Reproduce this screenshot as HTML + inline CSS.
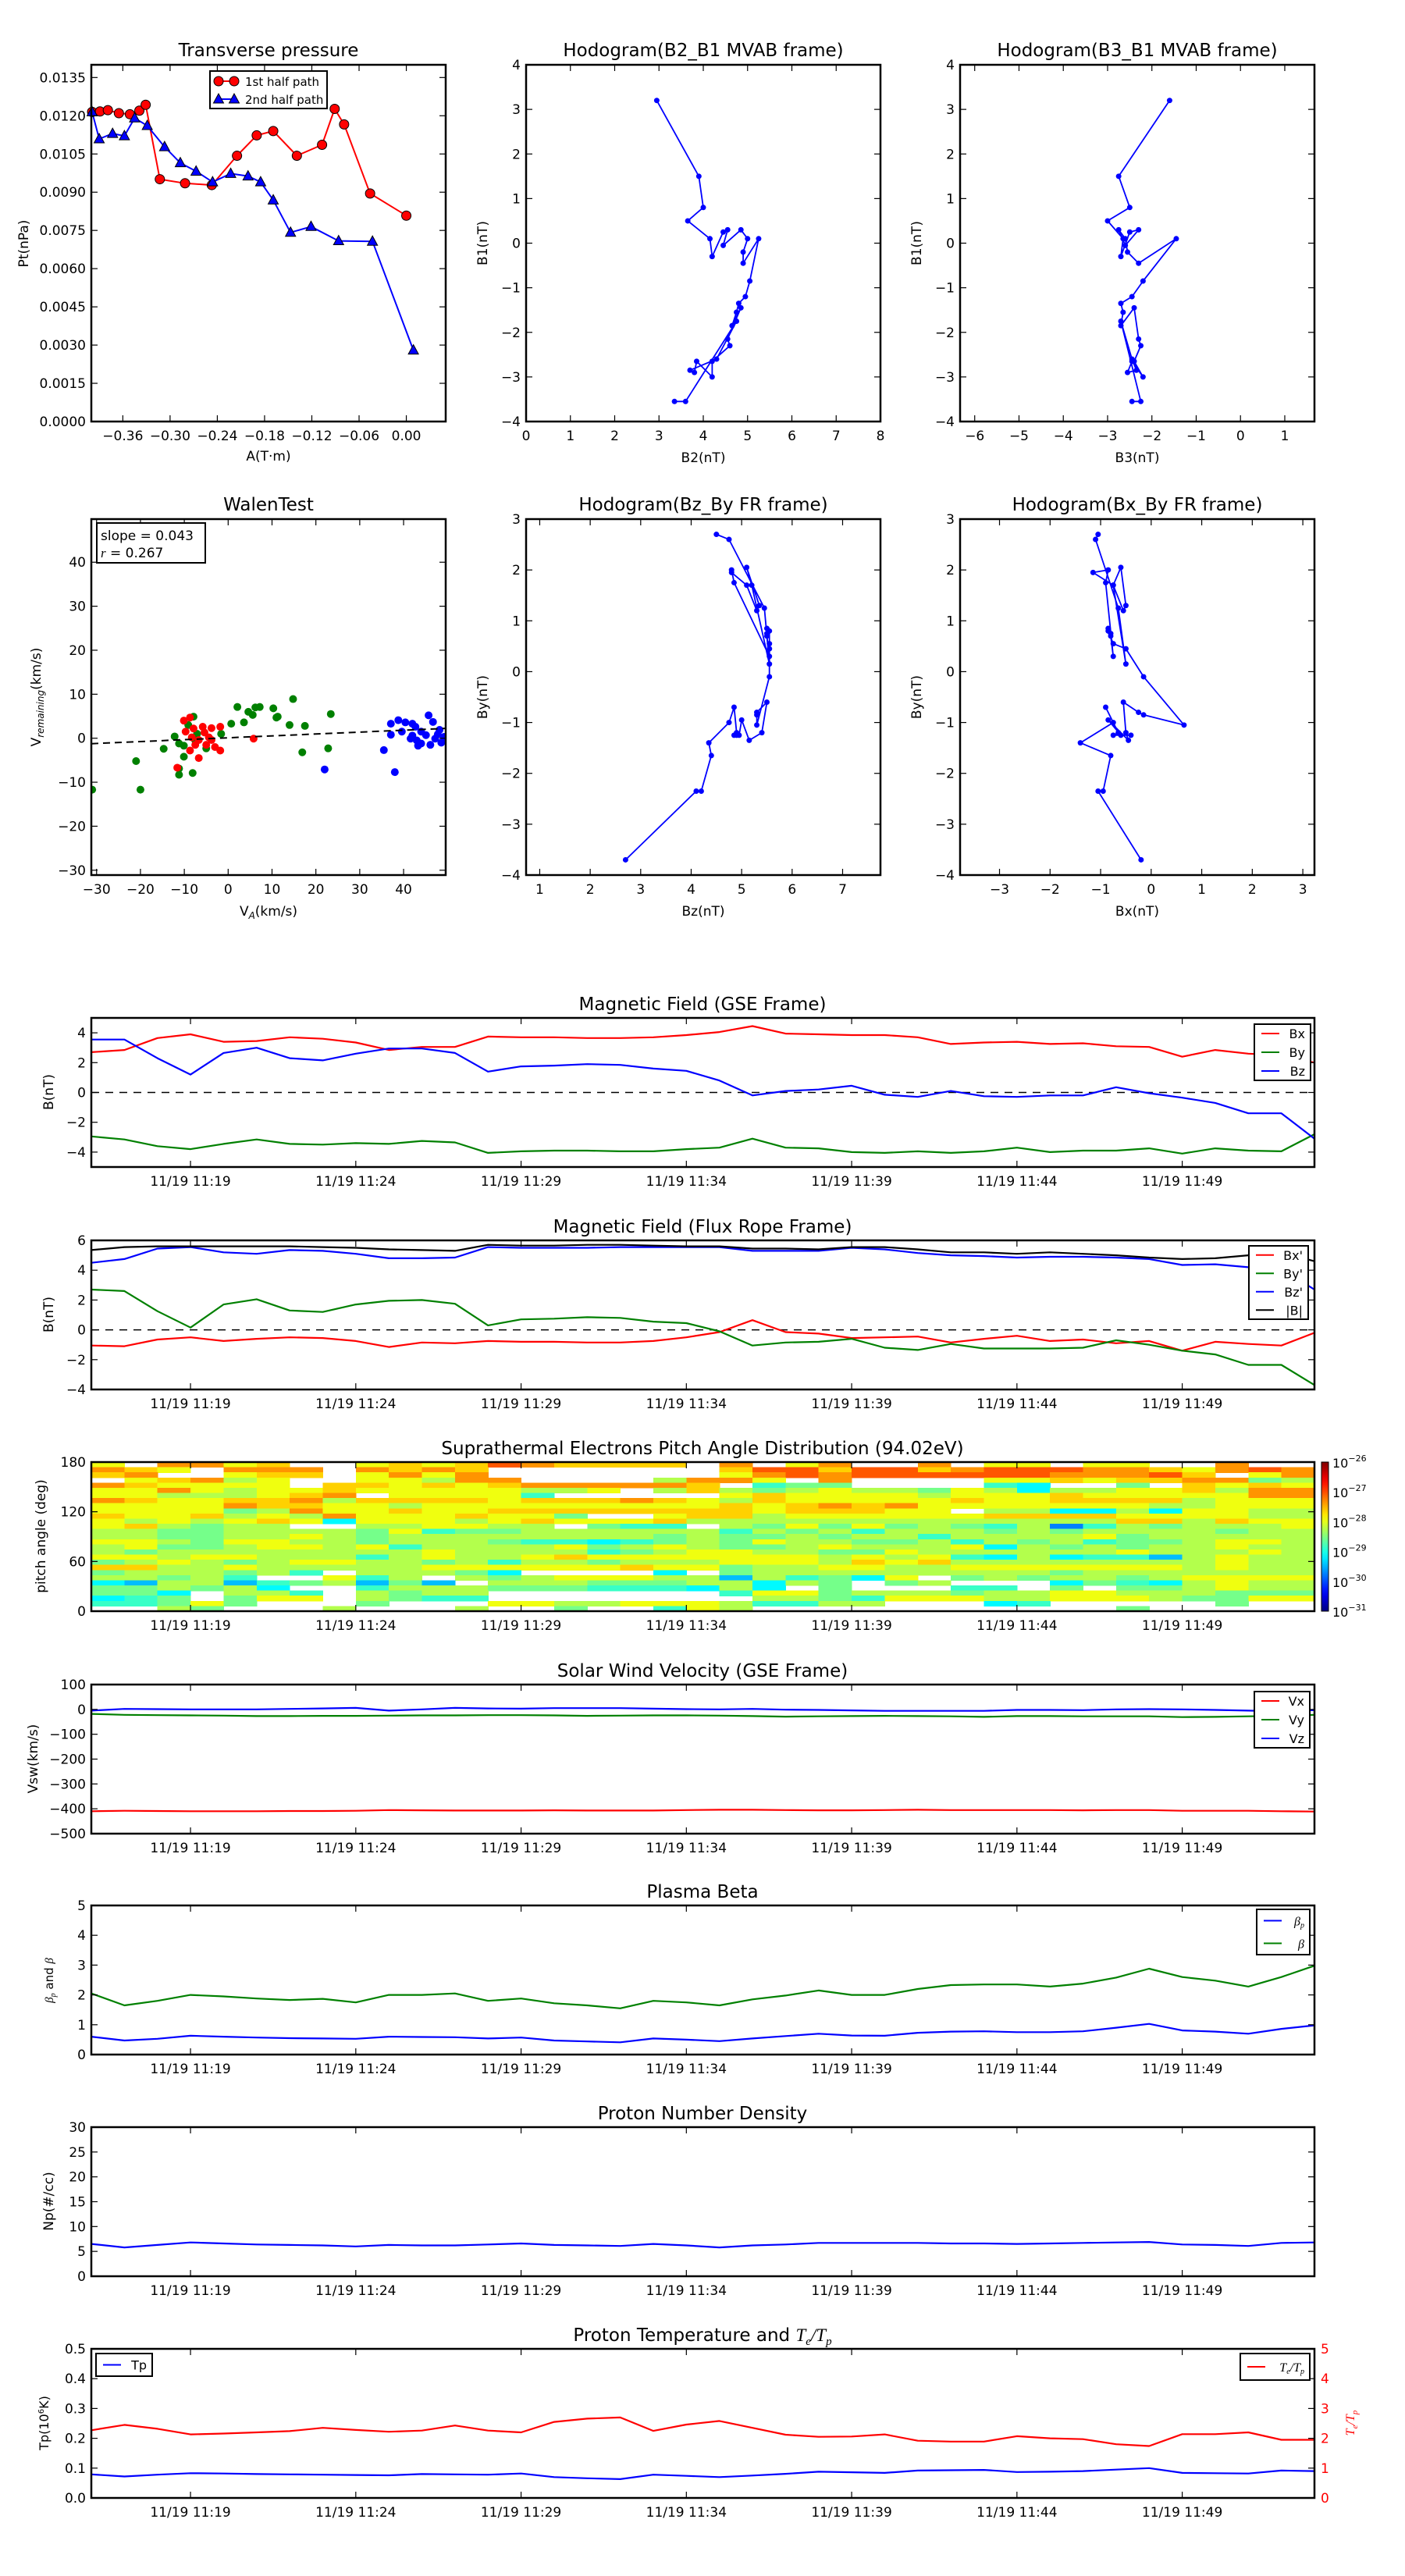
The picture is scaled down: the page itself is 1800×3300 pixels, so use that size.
<!DOCTYPE html>
<html><head><meta charset="utf-8"><title>Flux rope analysis</title>
<style>
html,body{margin:0;padding:0;background:#fff;}
svg{display:block;font-family:"DejaVu Sans","Liberation Sans",sans-serif;}
</style></head>
<body>
<svg id="chart" xmlns="http://www.w3.org/2000/svg" width="1800" height="3300" viewBox="0 0 1800 3300">
<rect x="0" y="0" width="1800" height="3300" fill="#fff"/>
</svg>
<script>
// ---------------- DATA ----------------
const ptRedA=[-0.399,-0.389,-0.379,-0.365,-0.351,-0.339,-0.331,-0.313,-0.281,-0.247,-0.215,-0.190,-0.169,-0.139,-0.107,-0.091,-0.079,-0.046,0.000];
const ptRedP=[0.01215,0.01217,0.01222,0.0121,0.01206,0.0122,0.01243,0.00951,0.00935,0.00928,0.01043,0.01123,0.0114,0.01043,0.01086,0.01227,0.01166,0.00895,0.00808];
const ptBlueA=[-0.399,-0.390,-0.373,-0.358,-0.345,-0.329,-0.307,-0.287,-0.267,-0.246,-0.223,-0.201,-0.185,-0.169,-0.147,-0.121,-0.086,-0.043,0.009];
const ptBlueP=[0.01215,0.01109,0.0113,0.01121,0.01191,0.01161,0.01078,0.01015,0.00982,0.0094,0.00973,0.00963,0.0094,0.00869,0.00742,0.00765,0.00709,0.00707,0.0028];

const mvB1=[3.2,1.5,0.8,0.5,0.1,-0.3,0.25,0.3,-0.05,0.3,0.1,-0.2,-0.45,0.1,-0.85,-1.2,-1.35,-1.55,-1.85,-1.45,-2.15,-2.3,-2.65,-3.0,-2.65,-2.9,-2.85,-2.6,-1.75,-3.55,-3.55];
const mvB2=[2.95,3.9,4.0,3.65,4.15,4.2,4.45,4.55,4.45,4.85,5.0,4.9,4.9,5.25,5.05,4.95,4.8,4.75,4.65,4.85,4.55,4.6,4.2,4.2,3.85,3.8,3.7,4.3,4.75,3.6,3.35];
const mvB3=[-1.6,-2.75,-2.5,-3.0,-2.65,-2.7,-2.5,-2.3,-2.6,-2.75,-2.6,-2.55,-2.3,-1.45,-2.2,-2.45,-2.7,-2.65,-2.7,-2.4,-2.3,-2.25,-2.4,-2.2,-2.45,-2.55,-2.35,-2.45,-2.7,-2.25,-2.45];

const walRedX=[-10.1,-8.7,-9.7,-7.9,-5.4,-3.8,-1.8,-4.4,-6.7,-7.5,-8.7,-6.7,-11.6,-3.0,-1.8,-5,-8.3,5.8,-5.8,-3.8];
const walRedY=[4.0,4.7,1.5,2.2,1.3,2.3,2.6,0.2,-0.4,-1.5,-2.8,-4.5,-6.7,-2.0,-2.8,-1.5,0.2,-0.1,2.6,-0.4];
const walGreenX=[-31,-21,-20,-14.7,-12.2,-11.2,-10.1,-10.1,-11.2,-11.2,-8.1,-9.1,-7.9,-7.1,-5,-1.6,0.7,2.1,3.6,4.6,5.6,6.2,7.2,10.3,11,11.3,14,14.8,17.5,16.9,22.8,23.4,-7.5];
const walGreenY=[-11.7,-5.2,-11.7,-2.4,0.4,-1.2,-1.7,-4.2,-6.9,-8.3,-7.9,3.0,4.9,1.0,-2.3,1.0,3.3,7.1,3.6,6.0,5.3,7.0,7.1,6.8,4.7,4.9,3.0,8.9,2.8,-3.2,-2.3,5.5,-0.5];
const walBlueX=[22,35.5,38,37.1,37.1,38.8,40.4,42,42.7,42,43,44,45.7,45.1,46.1,47.2,48.2,49.2,44,41.6,46.7,47.8,48.6,39.6,43.3];
const walBlueY=[-7.1,-2.7,-7.7,3.3,0.8,4.1,3.6,3.3,2.6,0.6,-0.5,1.5,5.2,0.7,-1.5,-0.1,1.9,0.3,-1.2,-0.1,3.7,0.9,-1.0,1.5,-1.7];
const walSlope=0.043, walIntercept=0.1;

const gseBx=[2.7,2.85,3.65,3.9,3.4,3.45,3.7,3.6,3.35,2.85,3.05,3.05,3.75,3.7,3.7,3.65,3.65,3.7,3.85,4.05,4.45,3.95,3.9,3.85,3.85,3.7,3.25,3.35,3.4,3.25,3.3,3.1,3.05,2.4,2.85,2.6,2.5,2.0];
const gseBy=[-2.95,-3.15,-3.6,-3.8,-3.45,-3.15,-3.45,-3.5,-3.4,-3.45,-3.25,-3.35,-4.05,-3.95,-3.9,-3.9,-3.95,-3.95,-3.8,-3.7,-3.1,-3.7,-3.75,-4.0,-4.05,-3.95,-4.05,-3.95,-3.7,-4.0,-3.9,-3.9,-3.75,-4.1,-3.75,-3.9,-3.95,-2.8];
const gseBz=[3.55,3.55,2.3,1.2,2.65,3.0,2.3,2.15,2.6,2.95,2.95,2.65,1.4,1.75,1.8,1.9,1.85,1.6,1.45,0.8,-0.2,0.1,0.2,0.45,-0.15,-0.3,0.1,-0.25,-0.3,-0.2,-0.2,0.35,-0.05,-0.35,-0.7,-1.4,-1.4,-3.1];

const frBx=[-1.05,-1.1,-0.65,-0.5,-0.75,-0.6,-0.5,-0.55,-0.75,-1.15,-0.85,-0.9,-0.75,-0.8,-0.8,-0.85,-0.85,-0.75,-0.5,-0.15,0.65,-0.15,-0.25,-0.55,-0.5,-0.45,-0.85,-0.6,-0.4,-0.75,-0.65,-0.9,-0.75,-1.4,-0.8,-0.95,-1.05,-0.2];
const frBy=[2.7,2.6,1.25,0.15,1.7,2.05,1.3,1.2,1.7,1.95,2.0,1.75,0.3,0.7,0.75,0.85,0.8,0.55,0.45,-0.1,-1.05,-0.85,-0.8,-0.6,-1.2,-1.35,-0.95,-1.25,-1.25,-1.25,-1.2,-0.7,-1.0,-1.4,-1.65,-2.35,-2.35,-3.7];
const frBz=[4.5,4.75,5.45,5.55,5.2,5.1,5.35,5.3,5.1,4.8,4.8,4.85,5.55,5.5,5.5,5.5,5.55,5.55,5.55,5.55,5.3,5.3,5.3,5.5,5.4,5.15,5.0,4.95,4.85,4.9,4.9,4.85,4.75,4.35,4.4,4.2,4.1,2.7];
const frBt=[5.35,5.55,5.6,5.6,5.6,5.6,5.6,5.55,5.5,5.4,5.35,5.3,5.7,5.65,5.65,5.7,5.7,5.65,5.6,5.6,5.45,5.45,5.4,5.55,5.55,5.4,5.2,5.2,5.1,5.2,5.1,5.0,4.85,4.75,4.8,5.0,5.2,4.6];

const padRows=[
"6.8867..6767987777.8.68..8.66.66..8..",
"876.888.8787.......799799789998876898",
"78..677.6868.......689899999988897.68",
".67856..66588....5886.8....6676778845",
"876666.776767888887.344....32..4.7676",
"6686566766666556.57545655465255667588",
"66555678.66663.....676666566676666688",
"8766778577776777876576666676677775666",
"6666877665666666666767878666666655666",
"66664586676677777777677766.5522526655",
"766756586667664..67756666667777666655",
"6565676266656766675555555555555775766",
"675455..556655.433.546464543503545556",
"5544555546344555555354535554545555455",
"5544556545555555545445455355556455555",
"6654665545554332345465544535453445665",
"5644566563555564565445655562545455655",
"5455555555655553456655446555555655565",
"6656655535655676666666565632523315655",
"4565456655453554555666576755555555655",
"7755655555666666766455665566666665655",
"4555453.55542....2.455555555545555555",
"55453..635.54566655153426.45455456666",
"21551345141.55544455254.45...24325655",
"445452..3555444333252.4...33.4.445655",
"442.553.5455.......366455545566555444",
"234.466.5433........55436665566654466",
"33464...4...665566653355...23.....4..",
"..54...5...5..4..365...........4....."];
const padTicks=[0,60,120,180];
const cbTicks=[-31,-30,-29,-28,-27,-26];

const swVx=[-410,-408,-409,-410,-410,-410,-409,-409,-408,-405,-406,-407,-407,-407,-406,-407,-407,-407,-405,-404,-404,-405,-406,-406,-405,-404,-405,-405,-405,-405,-406,-405,-405,-408,-408,-408,-410,-411];
const swVy=[-18,-22,-23,-24,-25,-27,-27,-26,-26,-25,-24,-24,-23,-23,-24,-26,-25,-24,-24,-25,-27,-29,-28,-27,-26,-27,-28,-30,-27,-27,-28,-28,-28,-31,-30,-28,-26,-22];
const swVz=[-5,2,1,0,0,0,2,4,6,-5,0,6,4,3,5,5,5,3,1,0,2,-1,-2,-4,-6,-6,-6,-6,-2,-2,-3,0,1,0,-2,-5,-8,-3];

const betaP=[0.6,0.47,0.53,0.63,0.6,0.57,0.55,0.54,0.53,0.6,0.59,0.58,0.54,0.57,0.47,0.44,0.41,0.54,0.5,0.45,0.54,0.62,0.7,0.64,0.63,0.73,0.77,0.78,0.75,0.75,0.78,0.9,1.03,0.81,0.77,0.7,0.86,0.98];
const betaT=[2.05,1.65,1.8,2.0,1.95,1.88,1.83,1.87,1.75,2.0,2.0,2.05,1.8,1.88,1.72,1.65,1.55,1.8,1.75,1.65,1.85,1.98,2.15,2.0,2.0,2.2,2.33,2.35,2.35,2.28,2.38,2.58,2.88,2.6,2.48,2.28,2.6,2.98];
const npDens=[6.5,5.8,6.3,6.8,6.6,6.4,6.3,6.2,6.0,6.3,6.2,6.2,6.4,6.6,6.3,6.2,6.1,6.5,6.2,5.8,6.2,6.4,6.7,6.7,6.7,6.7,6.6,6.6,6.5,6.6,6.7,6.8,6.9,6.4,6.3,6.1,6.7,6.8];
const tpTemp=[0.079,0.072,0.078,0.083,0.082,0.080,0.079,0.078,0.077,0.076,0.080,0.079,0.078,0.082,0.070,0.066,0.063,0.078,0.074,0.070,0.075,0.081,0.088,0.086,0.084,0.092,0.093,0.094,0.087,0.088,0.090,0.095,0.100,0.084,0.083,0.082,0.092,0.090];
const teTp=[2.27,2.45,2.32,2.13,2.16,2.2,2.24,2.35,2.28,2.22,2.26,2.43,2.26,2.2,2.55,2.66,2.7,2.25,2.46,2.58,2.35,2.12,2.05,2.06,2.13,1.92,1.89,1.89,2.07,2.0,1.97,1.8,1.74,2.14,2.14,2.2,1.95,1.95];
const timeTickMin=[3,8,13,18,23,28,33];
const timeTickLabels=["11/19 11:19","11/19 11:24","11/19 11:29","11/19 11:34","11/19 11:39","11/19 11:44","11/19 11:49"];

// ---------------- HELPERS ----------------
const svg=document.getElementById('chart');
const NS='http://www.w3.org/2000/svg';
function mk(tag,attrs,parent){const e=document.createElementNS(NS,tag);for(const k in attrs)e.setAttribute(k,attrs[k]);(parent||svg).appendChild(e);return e;}
const MINUS='\u2212';
function fmt(v,d){const s=Math.abs(v).toFixed(d);return (v<0&&parseFloat(s)!==0?MINUS:'')+s;}
function lin(d0,d1,p0,p1){return v=>p0+(v-d0)/(d1-d0)*(p1-p0);}
function jet(t){const c=x=>Math.round(255*Math.max(0,Math.min(1,x)));return `rgb(${c(1.5-Math.abs(4*t-3))},${c(1.5-Math.abs(4*t-2))},${c(1.5-Math.abs(4*t-1))})`;}

function drawFrame(g,b){
  const f=mk('rect',{x:b.x,y:b.y,width:b.w,height:b.h,fill:'none',stroke:'#000','stroke-width':2.5},g);
  
  
}
function xTicks(g,b,vals,sx,labels,minor){
  vals.forEach((v,i)=>{
    const x=sx(v);
    const t1=mk('line',{x1:x,x2:x,y1:b.y+b.h,y2:b.y+b.h-8,stroke:'#000','stroke-width':1.2},g);
    
    
    const t2=mk('line',{x1:x,x2:x,y1:b.y,y2:b.y+8,stroke:'#000','stroke-width':1.2},g);
    
    
    const tx=mk('text',{x:x,y:b.y+b.h+24,'text-anchor':'middle','font-size':17,fill:'#000'},g);
    tx.textContent=labels[i];
    
    
  });
}
function yTicks(g,b,vals,sy,labels,opts){
  opts=opts||{};
  vals.forEach((v,i)=>{
    const y=sy(v);
    const t1=mk('line',{x1:b.x,x2:b.x+8,y1:y,y2:y,stroke:'#000','stroke-width':1.2},g);
    
    
    if(!opts.noRight){
      const t2=mk('line',{x1:b.x+b.w,x2:b.x+b.w-8,y1:y,y2:y,stroke:'#000','stroke-width':1.2},g);
      
      
    }
    const tx=mk('text',{x:b.x-7,y:y+6,'text-anchor':'end','font-size':17,fill:'#000'},g);
    tx.textContent=labels[i];
    
    
  });
}
function title(g,x,y,txt,name){
  const t=mk('text',{x:x,y:y,'text-anchor':'middle','font-size':23,fill:'#000'},g);
  t.textContent=txt;
  
  
  return t;
}
function ylab(g,x,y,txt,name,color){
  const t=mk('text',{x:x,y:y,'text-anchor':'middle','font-size':17,fill:color||'#000',transform:`rotate(-90 ${x} ${y})`},g);
  t.textContent=txt;
  
  
  return t;
}
function xlab(g,x,y,txt,name){
  const t=mk('text',{x:x,y:y,'text-anchor':'middle','font-size':17,fill:'#000'},g);
  t.textContent=txt;
  
  
  return t;
}
function poly(g,xs,ys,sx,sy,color,name,w){
  const pts=xs.map((v,i)=>sx(v).toFixed(1)+','+sy(ys[i]).toFixed(1)).join(' ');
  const p=mk('polyline',{points:pts,fill:'none',stroke:color,'stroke-width':w||2.2,'stroke-linejoin':'round'},g);
  
  
  return p;
}
function range(a,b,s){const r=[];for(let v=a;v<=b+1e-9;v+=s)r.push(+v.toFixed(6));return r;}

// ---------------- TRANSVERSE PRESSURE ----------------
(function(){
  const b={x:117,y:83,w:454,h:457};
  const g=mk('g',{});
  
  
  const sx=lin(-0.40,0.05,b.x,b.x+b.w), sy=lin(0,0.014,b.y+b.h,b.y);
  const xt=range(-0.36,0.0,0.06), yt=range(0,0.0135,0.0015);
  poly(g,ptRedA,ptRedP,sx,sy,'#ff0000','first-half-line',2);
  poly(g,ptBlueA,ptBlueP,sx,sy,'#0000ff','second-half-line',2);
  ptRedA.forEach((v,i)=>{
    const c=mk('circle',{cx:sx(v),cy:sy(ptRedP[i]),r:6,fill:'#ff0000',stroke:'#000','stroke-width':1},g);
    
    
  });
  ptBlueA.forEach((v,i)=>{
    const x=sx(v),y=sy(ptBlueP[i]);
    const t=mk('polygon',{points:`${x},${y-7} ${x-6.5},${y+5} ${x+6.5},${y+5}`,fill:'#0000ff',stroke:'#000','stroke-width':1},g);
    
    
  });
  drawFrame(g,b);
  xTicks(g,b,xt,sx,xt.map(v=>fmt(v,2)));
  yTicks(g,b,yt,sy,yt.map(v=>fmt(v,4)));
  title(g,344,72,'Transverse pressure','pressure-title');
  xlab(g,344,590,'A(T\u00b7m)','pressure-x-label');
  ylab(g,36,312,'Pt(nPa)','pressure-y-label');
  const lg=mk('g',{},g);
  
  
  const lb=mk('rect',{x:269,y:91,width:150,height:48,fill:'#fff',stroke:'#000','stroke-width':2},lg);
  
  
  const l1=mk('line',{x1:280,x2:300,y1:104,y2:104,stroke:'#f00','stroke-width':2},lg);
  
  
  [280,300].forEach(x=>{const c=mk('circle',{cx:x,cy:104,r:6,fill:'#f00',stroke:'#000','stroke-width':1},lg);
    
    });
  const l2=mk('line',{x1:280,x2:300,y1:127,y2:127,stroke:'#00f','stroke-width':2},lg);
  
  
  [280,300].forEach(x=>{const t=mk('polygon',{points:`${x},${120} ${x-6.5},${132} ${x+6.5},${132}`,fill:'#00f',stroke:'#000','stroke-width':1},lg);
    
    });
  const e1=mk('text',{x:314,y:110,'font-size':15},lg); e1.textContent='1st half path';
  
  
  const e2=mk('text',{x:314,y:133,'font-size':15},lg); e2.textContent='2nd half path';
  
  
})();

// ---------------- HODOGRAMS ----------------
function hodo(b,xs,ys,xr,yr,xt,yt,ttl,xl,yl,name){
  const g=mk('g',{});
  
  
  const sx=lin(xr[0],xr[1],b.x,b.x+b.w), sy=lin(yr[0],yr[1],b.y+b.h,b.y);
  poly(g,xs,ys,sx,sy,'#0000ff','hodogram-path',1.8);
  xs.forEach((v,i)=>{
    const c=mk('circle',{cx:sx(v),cy:sy(ys[i]),r:3.5,fill:'#0000ff'},g);
    
    
  });
  drawFrame(g,b);
  xTicks(g,b,xt,sx,xt.map(v=>fmt(v,0)));
  yTicks(g,b,yt,sy,yt.map(v=>fmt(v,0)));
  title(g,b.x+b.w/2,b.y-11,ttl,name+'-title');
  xlab(g,b.x+b.w/2,b.y+b.h+52,xl,name+'-x-label');
  ylab(g,b.x-50,b.y+b.h/2,yl,name+'-y-label');
}
hodo({x:674,y:83,w:454,h:457},mvB2,mvB1,[0,8],[-4,4],range(0,8,1),range(-4,4,1),'Hodogram(B2_B1 MVAB frame)','B2(nT)','B1(nT)','hodogram-b2-b1');
hodo({x:1230,y:83,w:454,h:457},mvB3,mvB1,[-6.33,1.67],[-4,4],range(-6,1,1),range(-4,4,1),'Hodogram(B3_B1 MVAB frame)','B3(nT)','B1(nT)','hodogram-b3-b1');
hodo({x:674,y:665,w:454,h:456},frBz,frBy,[0.73,7.75],[-4,3],range(1,7,1),range(-4,3,1),'Hodogram(Bz_By FR frame)','Bz(nT)','By(nT)','hodogram-bz-by');
hodo({x:1230,y:665,w:454,h:456},frBx,frBy,[-3.78,3.23],[-4,3],range(-3,3,1),range(-4,3,1),'Hodogram(Bx_By FR frame)','Bx(nT)','By(nT)','hodogram-bx-by');

// ---------------- WALEN TEST ----------------
(function(){
  const b={x:117,y:665,w:454,h:456};
  const g=mk('g',{});
  
  
  const sx=lin(-31.2,49.6,b.x,b.x+b.w), sy=lin(-31.1,49.8,b.y+b.h,b.y);
  const groups=[[walGreenX,walGreenY,'#008000','walen-point-green'],[walRedX,walRedY,'#ff0000','walen-point-red'],[walBlueX,walBlueY,'#0000ff','walen-point-blue']];
  const cl=mk('clipPath',{id:'walclip'},g);
  mk('rect',{x:b.x,y:b.y,width:b.w,height:b.h},cl);
  const pg=mk('g',{'clip-path':'url(#walclip)'},g);
  
  
  groups.forEach(gr=>{
    gr[0].forEach((v,i)=>{
      const c=mk('circle',{cx:sx(v),cy:sy(gr[1][i]),r:5,fill:gr[2]},pg);
      
      
    });
  });
  const fl=mk('line',{x1:sx(-31.2),y1:sy(walSlope*-31.2+walIntercept),x2:sx(49.6),y2:sy(walSlope*49.6+walIntercept),stroke:'#000','stroke-width':2,'stroke-dasharray':'9,6'},pg);
  
  
  drawFrame(g,b);
  const xt=range(-30,40,10), yt=range(-30,40,10);
  xTicks(g,b,xt,sx,xt.map(v=>fmt(v,0)));
  yTicks(g,b,yt,sy,yt.map(v=>fmt(v,0)));
  title(g,344,654,'WalenTest','walen-title');
  const xl=mk('text',{x:344,y:1173,'text-anchor':'middle','font-size':17},g);
  xl.innerHTML='V<tspan font-size="12" dy="4" font-style="italic">A</tspan><tspan dy="-4">(km/s)</tspan>';
  
  
  const yl=mk('text',{x:52,y:893,'text-anchor':'middle','font-size':17,transform:'rotate(-90 52 893)'},g);
  yl.innerHTML='V<tspan font-size="12" dy="4" font-style="italic">remaining</tspan><tspan dy="-4">(km/s)</tspan>';
  
  
  const bx=mk('rect',{x:124,y:670,width:139,height:51,fill:'#fff',stroke:'#000','stroke-width':2},g);
  
  
  const s1=mk('text',{x:129,y:692,'font-size':17},g); s1.textContent='slope = '+walSlope.toFixed(3);
  
  
  const s2=mk('text',{x:129,y:714,'font-size':17},g); s2.innerHTML='<tspan font-style="italic" font-family="Liberation Serif">r</tspan> = 0.267';
  
  
})();

// ---------------- TIME PANELS ----------------
const TX0=117,TX1=1684,TH=191;
const stime=lin(0,37,TX0,TX1);
const tmin=gseBx.map((_,i)=>i);
function timePanel(top,yr,yt,ytl,ttl,name,opts){
  opts=opts||{};
  const b={x:TX0,y:top,w:TX1-TX0,h:TH};
  const g=mk('g',{});
  
  
  const sy=lin(yr[0],yr[1],b.y+b.h,b.y);
  return {g,b,sy,finish(){
    drawFrame(g,b);
    xTicks(g,b,timeTickMin,stime,timeTickLabels);
    yTicks(g,b,yt,sy,ytl,{noRight:opts.noRight});
    if(ttl) title(g,900,top-10,ttl,name+'-title');
  }};
}
function legend(g,x,y,w,h,entries,name){
  const lg=mk('g',{},g);
  
  
  const r=mk('rect',{x:x,y:y,width:w,height:h,fill:'#fff',stroke:'#000','stroke-width':2},lg);
  
  
  const step=h/entries.length;
  entries.forEach((e,i)=>{
    const yy=y+step*(i+0.5);
    const l=mk('line',{x1:x+9,x2:x+32,y1:yy,y2:yy,stroke:e[1],'stroke-width':2},lg);
    
    
    const t=mk('text',{x:x+w-7,y:yy+6,'text-anchor':'end','font-size':16},lg);
    t.innerHTML=e[0];
    
    
  });
}
function zeroLine(p){
  const z=mk('line',{x1:TX0,x2:TX1,y1:p.sy(0),y2:p.sy(0),stroke:'#000','stroke-width':1.5,'stroke-dasharray':'10,8'},p.g);
  
  
}

// GSE
(function(){
  const yt=range(-4,4,2);
  const p=timePanel(1304,[-5,5],yt,yt.map(v=>fmt(v,0)),'Magnetic Field (GSE Frame)','mag-gse-panel');
  zeroLine(p);
  poly(p.g,tmin,gseBx,stime,p.sy,'#ff0000','line-bx');
  poly(p.g,tmin,gseBy,stime,p.sy,'#008000','line-by');
  poly(p.g,tmin,gseBz,stime,p.sy,'#0000ff','line-bz');
  p.finish();
  ylab(p.g,68,1399,'B(nT)','mag-gse-y-label');
  legend(p.g,1607,1312,72,72,[['Bx','#f00'],['By','#008000'],['Bz','#00f']],'mag-gse-legend');
})();
// Flux rope
(function(){
  const yt=range(-4,6,2);
  const p=timePanel(1589,[-4,6],yt,yt.map(v=>fmt(v,0)),'Magnetic Field (Flux Rope Frame)','mag-fr-panel');
  zeroLine(p);
  poly(p.g,tmin,frBx,stime,p.sy,'#ff0000','line-bx-prime');
  poly(p.g,tmin,frBy,stime,p.sy,'#008000','line-by-prime');
  poly(p.g,tmin,frBz,stime,p.sy,'#0000ff','line-bz-prime');
  poly(p.g,tmin,frBt,stime,p.sy,'#000000','line-btotal');
  p.finish();
  ylab(p.g,68,1684,'B(nT)','mag-fr-y-label');
  legend(p.g,1600,1596,76,94,[["Bx'",'#f00'],["By'",'#008000'],["Bz'",'#00f'],['|B|','#000']],'mag-fr-legend');
})();
// PAD
(function(){
  const p=timePanel(1873,[0,180],padTicks,padTicks.map(v=>String(v)),'Suprathermal Electrons Pitch Angle Distribution (94.02eV)','pad-panel');
  const nR=padRows.length, dA=180/nR;
  const cg=mk('g',{'shape-rendering':'crispEdges'},p.g);
  
  
  const cs=lin(-31,-26,0,1);
  padRows.forEach((row,ri)=>{
    const aHi=180-ri*dA, aLo=aHi-dA;
    for(let c=0;c<row.length;c++){
      const ch=row[c]; if(ch==='.') continue;
      const logv=-31+5*(0.25+parseInt(ch)*0.06);
      const x0=stime(c), x1=stime(c+1);
      const r=mk('rect',{x:x0.toFixed(2),y:p.sy(aHi).toFixed(2),width:(x1-x0+0.6).toFixed(2),height:(p.sy(aLo)-p.sy(aHi)+0.6).toFixed(2),fill:jet(cs(logv))},cg);
      
      
    }
  });
  p.finish();
  ylab(p.g,58,1968,'pitch angle (deg)','pad-y-label');
  // colorbar
  const cb=mk('g',{},p.g);
  
  
  const defs=mk('defs',{},cb);
  const lgd=mk('linearGradient',{id:'jetgrad',x1:0,y1:1,x2:0,y2:0},defs);
  for(let i=0;i<=20;i++){mk('stop',{offset:(i/20),'stop-color':jet(i/20)},lgd);}
  const cy0=1873,cy1=1873+TH;
  const cr=mk('rect',{x:1693,y:cy0,width:9,height:TH,fill:'url(#jetgrad)',stroke:'#000','stroke-width':1},cb);
  
  
  const cys=lin(-31,-26,cy1,cy0);
  cbTicks.forEach(v=>{
    const t=mk('text',{x:1707,y:cys(v)+7,'font-size':16},cb);
    t.innerHTML='10<tspan font-size="11" dy="-8">'+MINUS+Math.abs(v)+'</tspan>';
    
    
  });
})();
// Solar wind
(function(){
  const yt=range(-500,100,100);
  const p=timePanel(2158,[-500,100],yt,yt.map(v=>fmt(v,0)),'Solar Wind Velocity (GSE Frame)','sw-velocity-panel');
  poly(p.g,tmin,swVx,stime,p.sy,'#ff0000','line-vx');
  poly(p.g,tmin,swVy,stime,p.sy,'#008000','line-vy');
  poly(p.g,tmin,swVz,stime,p.sy,'#0000ff','line-vz');
  p.finish();
  ylab(p.g,48,2253,'Vsw(km/s)','sw-y-label');
  legend(p.g,1607,2167,71,72,[['Vx','#f00'],['Vy','#008000'],['Vz','#00f']],'sw-legend');
})();
// Beta
(function(){
  const yt=range(0,5,1);
  const p=timePanel(2441,[0,5],yt,yt.map(v=>fmt(v,0)),'Plasma Beta','beta-panel');
  poly(p.g,tmin,betaP,stime,p.sy,'#0000ff','line-beta-p');
  poly(p.g,tmin,betaT,stime,p.sy,'#008000','line-beta');
  p.finish();
  const yl=mk('text',{x:68,y:2537,'text-anchor':'middle','font-size':15,transform:'rotate(-90 68 2537)'},p.g);
  yl.innerHTML='<tspan font-style="italic" font-family="Liberation Serif">β<tspan font-size="10" dy="3">p</tspan></tspan><tspan dy="-3"> and </tspan><tspan font-style="italic" font-family="Liberation Serif">β</tspan>';
  
  
  legend(p.g,1610,2446,68,58,[['<tspan font-style="italic" font-family="Liberation Serif">β<tspan font-size="10" dy="3">p</tspan></tspan>','#00f'],['<tspan font-style="italic" font-family="Liberation Serif">β</tspan>','#008000']],'beta-legend');
})();
// Density
(function(){
  const yt=range(0,30,5);
  const p=timePanel(2725,[0,30],yt,yt.map(v=>fmt(v,0)),'Proton Number Density','density-panel');
  poly(p.g,tmin,npDens,stime,p.sy,'#0000ff','line-np');
  p.finish();
  ylab(p.g,68,2820,'Np(#/cc)','density-y-label');
})();
// Temperature
(function(){
  const yt=range(0,0.5,0.1);
  const p=timePanel(3009,[0,0.5],yt,yt.map(v=>fmt(v,1)),null,'temperature-panel',{noRight:true});
  const sy2=lin(0,5,3009+TH,3009);
  poly(p.g,tmin,teTp,stime,sy2,'#ff0000','line-te-tp');
  poly(p.g,tmin,tpTemp,stime,p.sy,'#0000ff','line-tp');
  p.finish();
  range(0,5,1).forEach(v=>{
    const y=sy2(v);
    const tk=mk('line',{x1:TX1,x2:TX1-8,y1:y,y2:y,stroke:'#000','stroke-width':1.2},p.g);
    
    
    const t=mk('text',{x:TX1+8,y:y+6,'font-size':17,fill:'#ff0000'},p.g);
    t.textContent=String(v);
    
    
  });
  const tt=mk('text',{x:900,y:2999,'text-anchor':'middle','font-size':23},p.g);
  tt.innerHTML='Proton Temperature and <tspan font-style="italic" font-family="Liberation Serif">T<tspan font-size="15" dy="5">e</tspan><tspan dy="-5">/T</tspan><tspan font-size="15" dy="5">p</tspan></tspan>';
  
  
  const yl=mk('text',{x:62,y:3104,'text-anchor':'middle','font-size':16,transform:'rotate(-90 62 3104)'},p.g);
  yl.innerHTML='Tp(10<tspan font-size="10" dy="-6">6</tspan><tspan dy="6">K)</tspan>';
  
  
  const yr=mk('text',{x:1735,y:3104,'text-anchor':'middle','font-size':16,fill:'#ff0000','font-style':'italic','font-family':'Liberation Serif',transform:'rotate(-90 1735 3104)'},p.g);
  yr.innerHTML='T<tspan font-size="11" dy="4">e</tspan><tspan dy="-4">/T</tspan><tspan font-size="11" dy="4">p</tspan>';
  
  
  legend(p.g,123,3015,72,29,[['Tp','#00f']],'tp-legend');
  legend(p.g,1589,3015,89,34,[['<tspan font-style="italic" font-family="Liberation Serif">T<tspan font-size="10" dy="3">e</tspan><tspan dy="-3">/T</tspan><tspan font-size="10" dy="3">p</tspan></tspan>','#f00']],'te-tp-legend');
})();
</script>
</body></html>
